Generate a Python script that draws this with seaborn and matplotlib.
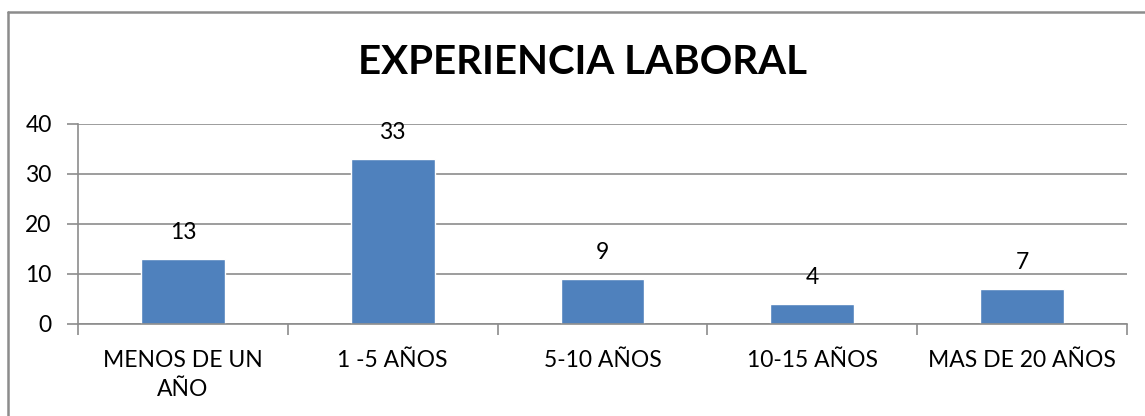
import matplotlib
matplotlib.use("Agg")
import matplotlib.pyplot as plt
import seaborn as sns
import pandas as pd
from matplotlib.lines import Line2D

categories = ["MENOS DE UN\nAÑO", "1 -5 AÑOS", "5-10 AÑOS", "10-15 AÑOS", "MAS DE 20 AÑOS"]
values = [13, 33, 9, 4, 7]
yticks = [0, 10, 20, 30, 40]

sns.set_theme(style="white")
plt.rcParams['font.family'] = ['Lato', 'DejaVu Sans']

fig = plt.figure(figsize=(11.45, 4.16), dpi=100, facecolor="white", edgecolor="white", linewidth=0)
ax = fig.add_axes([78/1145, 1-324/416, (1127-78)/1145, 200/416])

df = pd.DataFrame({"cat": categories, "val": values})
sns.barplot(data=df, x="cat", y="val", color="#4F81BD", saturation=1, width=0.4, ax=ax)

grid_c = "#8C8C8C"
fs = 16.5
ax.set_ylim(0, 40)
ax.set_xlim(-0.5, len(categories) - 0.5)
ax.set_yticks(yticks)
ax.set_yticklabels([str(t) for t in yticks], fontsize=fs, color="black")
ax.yaxis.grid(True, color=grid_c, linewidth=1.2)
ax.set_axisbelow(True)
ax.tick_params(axis="y", length=8, width=1.2, color=grid_c, pad=11, left=True)
ax.set_xticks(range(len(categories)))
ax.set_xticklabels(categories, fontsize=fs, color="black", linespacing=1.45)
ax.set_xticks([i - 0.5 for i in range(len(categories) + 1)], minor=True)
ax.tick_params(axis="x", which="major", length=0, pad=19)
ax.tick_params(axis="x", which="minor", length=8, width=1.2, color=grid_c, bottom=True)
ax.set_xlabel("")
ax.set_ylabel("")
for s in ["top", "right"]:
    ax.spines[s].set_visible(False)
for s in ["left", "bottom"]:
    ax.spines[s].set_color(grid_c)
    ax.spines[s].set_linewidth(1.2)

for i, v in enumerate(values):
    ax.annotate(str(v), (i, v), xytext=(0, 19), textcoords="offset points",
                ha="center", va="center", fontsize=fs, color="black")

fig.text(583/1145, 1-62/416, "EXPERIENCIA LABORAL", ha="center", va="center",
         fontsize=29, fontweight="bold", color="black")

fig.lines.append(Line2D([8/1145, 1.0], [1-12/416, 1-12/416], transform=fig.transFigure,
                        color="#8C8C8C", linewidth=1.8))
fig.lines.append(Line2D([8/1145, 8/1145], [0, 1-12/416], transform=fig.transFigure,
                        color="#8C8C8C", linewidth=1.8))

fig.savefig("out.png", dpi=100, facecolor="white", edgecolor="none")
